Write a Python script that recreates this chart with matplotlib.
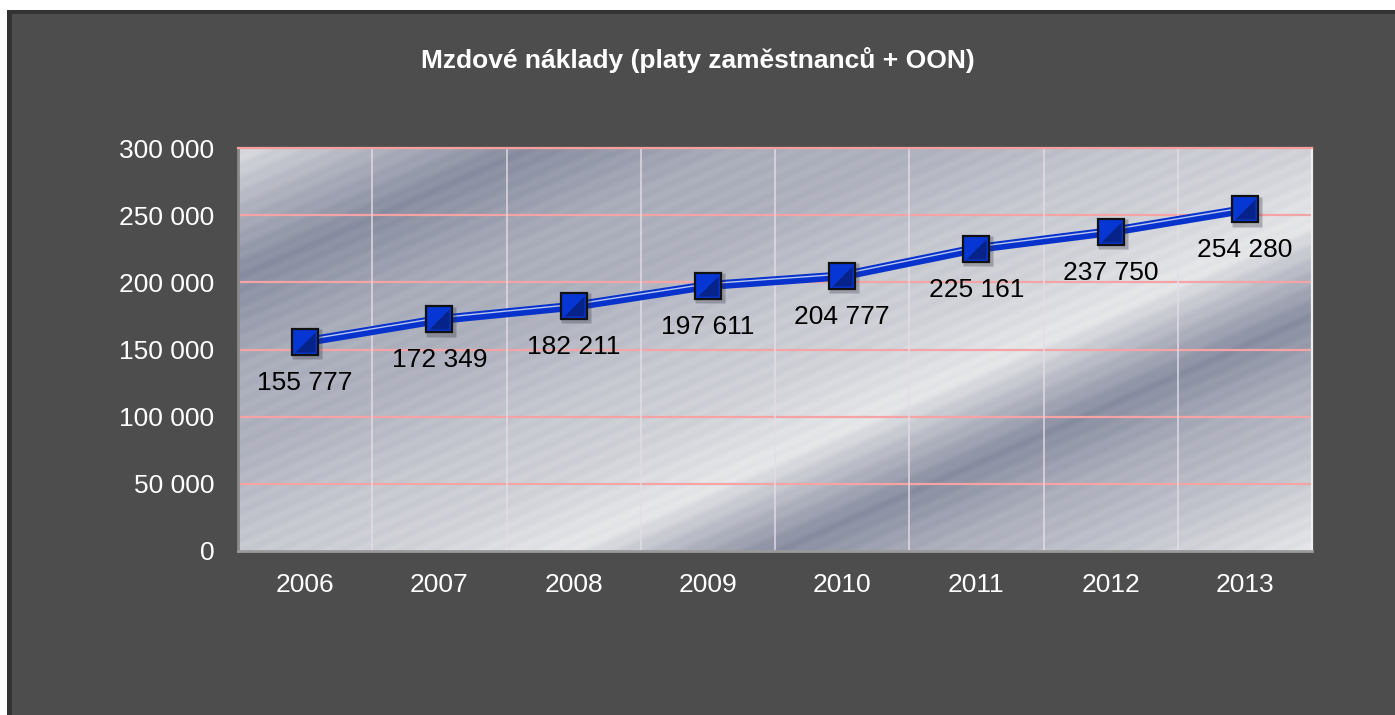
import numpy as np
import matplotlib
matplotlib.use("Agg")
import matplotlib.pyplot as plt
import matplotlib.transforms as mtransforms
from matplotlib.patches import Rectangle
from matplotlib.colors import LinearSegmentedColormap
from matplotlib.path import Path

# Data
years = ["2006", "2007", "2008", "2009", "2010", "2011", "2012", "2013"]
costs = [155777, 172349, 182211, 197611, 204777, 225161, 237750, 254280]
title = "Mzdové náklady (platy zaměstnanců + OON)"

def fmt(v):
    return f"{v:,}".replace(",", " ")

plt.rcParams["font.family"] = ["Liberation Sans", "DejaVu Sans"]

fig = plt.figure(figsize=(13.95, 7.15), dpi=100, facecolor="white")

# dark chart frame
fig.patches.append(Rectangle((7 / 1395, 0), 1 - 7 / 1395, 1 - 10 / 715,
                             transform=fig.transFigure, facecolor="#333333",
                             edgecolor="none", zorder=-10))
fig.patches.append(Rectangle((12 / 1395, 0), 1 - 12 / 1395, 1 - 14 / 715,
                             transform=fig.transFigure, facecolor="#4d4d4d",
                             edgecolor="none", zorder=-9))

ax = fig.add_axes([238 / 1395, 1 - 551 / 715, (1312 - 238) / 1395, (551 - 148) / 715])
ax.set_facecolor("#d0d0d4")

# metallic background texture (diagonal bands)
W, H = 1074, 403
xx, yy = np.meshgrid(np.arange(W), np.arange(H)[::-1])
s = yy - 0.44 * xx
band_s = [-480, -380, -300, -237, -190, -145, -70, 0, 100, 180, 275, 340, 410]
band_v = [0.96, 0.80, 0.70, 0.56, 0.75, 0.95, 0.86, 0.82, 0.72, 0.70, 0.56, 0.72, 0.93]
v = np.interp(s, band_s, band_v) + 0.012 * np.sin(s / 2.2)
cmap = LinearSegmentedColormap.from_list("metal", ["#7a8096", "#f2f2f2"])
ax.imshow(v, cmap=cmap, vmin=0.5, vmax=1.0, extent=(0, 1, 0, 1),
          transform=ax.transAxes, aspect="auto", zorder=0, interpolation="bilinear")

x = np.arange(len(years))
ax.set_xlim(-0.5, len(years) - 0.5)
ax.set_ylim(0, 300000)
yticks = np.arange(0, 300001, 50000)
ax.set_yticks(yticks)
ax.set_yticklabels([fmt(t) for t in yticks])
ax.set_xticks(x)
ax.set_xticklabels(years)

for t in yticks[1:]:
    ax.axhline(t, color="#f4a4a4", lw=1.6, zorder=1)
for b in np.arange(0.5, len(years) - 0.5, 1):
    ax.axvline(b, color="#e4dce6", lw=1.3, alpha=0.8, zorder=1)

ax.tick_params(axis="both", length=0, colors="white", labelsize=19)
ax.tick_params(axis="y", pad=17)
ax.tick_params(axis="x", pad=15.5)
ax.spines["left"].set_color("#8a8a8a")
ax.spines["left"].set_linewidth(2)
ax.spines["bottom"].set_color("#9a9a9a")
ax.spines["bottom"].set_linewidth(2)
ax.spines["top"].set_color("#f4a0a0")
ax.spines["top"].set_linewidth(1.6)
ax.spines["right"].set_color("#f0f0f0")
ax.spines["right"].set_linewidth(1.6)

# double blue line
ax.plot(x, costs, color="#0832cc", lw=6.5, solid_capstyle="butt", zorder=3)
hi = mtransforms.offset_copy(ax.transData, fig=fig, x=0, y=1.3, units="points")
ax.plot(x, costs, color="#b8c8f0", lw=1.0, transform=hi, zorder=4)

# soft marker shadow
sh = mtransforms.offset_copy(ax.transData, fig=fig, x=1.5, y=-1.5, units="points")
ax.plot(x, costs, "s", ms=21, mfc="#303040", mec="none", alpha=0.3, transform=sh, zorder=4.5)

# pyramid square markers
ax.plot(x, costs, "s", ms=18.5, mfc="#0636d4", mec="#111111", mew=1.6, zorder=5)
tri = Path([(1, 1), (1, -1), (-1, -1), (1, 1)],
           [Path.MOVETO, Path.LINETO, Path.LINETO, Path.CLOSEPOLY])
ax.plot(x, costs, marker=tri, ls="none", ms=15, mfc="#06238a", mec="none", zorder=6)

for xi, v_ in zip(x, costs):
    ax.annotate(fmt(v_), (xi, v_), xytext=(0, -29.5), textcoords="offset points",
                ha="center", va="center", fontsize=19, color="black", zorder=7)

fig.text(698 / 1395, 1 - 60 / 715, title, ha="center", va="center",
         fontsize=19, fontweight="bold", color="white")

fig.savefig("out.png", dpi=100, facecolor=fig.get_facecolor())
